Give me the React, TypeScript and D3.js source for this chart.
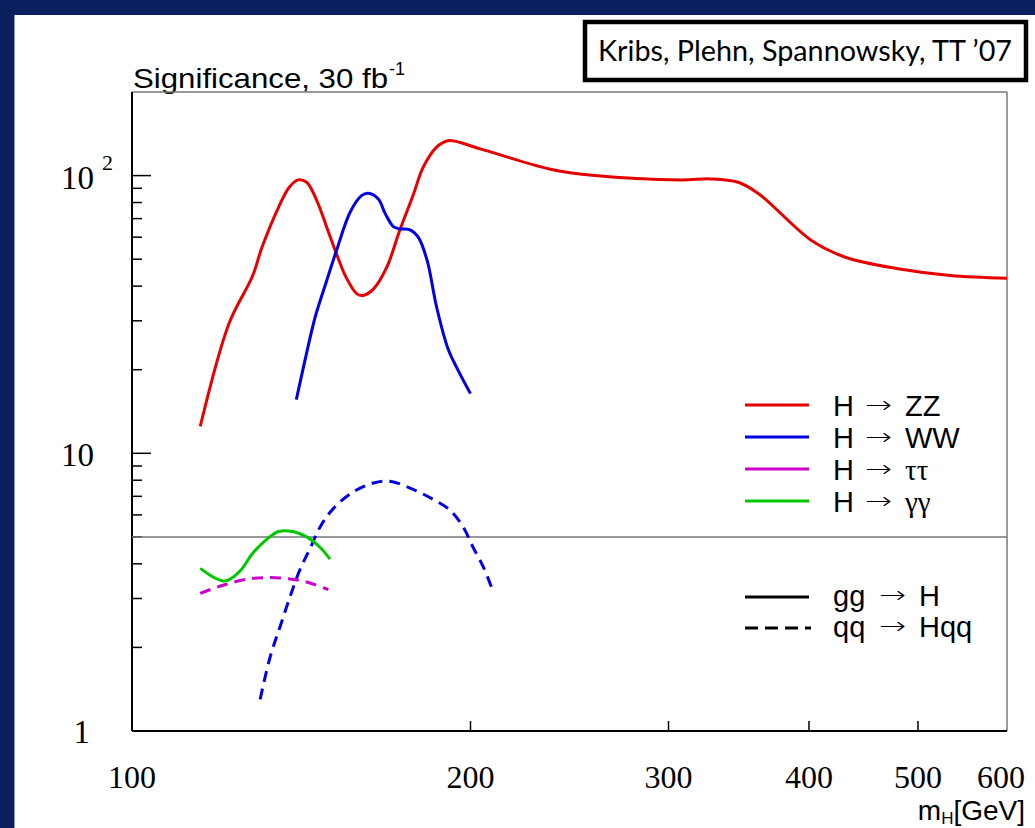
import React from "react";
import * as d3 from "d3";

const WIDTH = 1035;
const HEIGHT = 828;
const PLOT = { left: 132, right: 1007, top: 92, bottom: 731 };

// H -> ZZ, gg -> H
const ZZ_MASS = [115, 122, 128, 130.5, 135, 138, 140.5, 143, 146, 149, 152, 155, 158.5, 160.5, 164, 168.5, 173, 178, 181.5, 186.5, 191, 204, 235, 258, 308, 327, 346, 361, 402, 431, 480, 534, 600];
const ZZ_SIG = [12.5, 29.4, 43.5, 55.2, 76.9, 90.8, 96.5, 94.6, 81.3, 65.2, 52.3, 43.1, 37.5, 37.0, 39.1, 46.8, 63.4, 85.9, 107, 126.4, 133.6, 124.8, 105.7, 100, 96.5, 97.3, 94.6, 85.9, 58.4, 50.8, 46.2, 43.7, 42.7];

// H -> WW, gg -> H
const WW_GG_MASS = [140, 142.5, 145.5, 149, 152, 156.3, 160, 162.2, 165.6, 168, 170.8, 173, 176.7, 179.7, 183, 186.6, 191, 195, 200];
const WW_GG_SIG = [15.6, 21.6, 30.9, 41.9, 53.7, 73.8, 84.7, 86.4, 82.4, 72.8, 65.5, 64.3, 63.8, 60, 49.5, 33.6, 23.8, 19.9, 16.4];

// H -> WW, qq -> Hqq
const WW_QQ_MASS = [130, 132.7, 135.4, 138.2, 141, 144, 147, 151, 157.3, 164, 169.6, 178, 185.3, 191.8, 197, 201, 205.3, 209];
const WW_QQ_SIG = [1.3, 1.85, 2.37, 3.04, 3.8, 4.54, 5.43, 6.32, 7.26, 7.82, 7.93, 7.4, 6.82, 6.24, 5.43, 4.6, 3.9, 3.26];

// H -> gamma gamma, gg -> H
const AA_MASS = [115, 118, 120.5, 122, 125, 128, 132, 135, 139, 143, 147, 150];
const AA_SIG = [3.85, 3.59, 3.47, 3.51, 3.8, 4.36, 4.93, 5.23, 5.23, 5.0, 4.58, 4.16];

// H -> tau tau, qq -> Hqq
const TT_MASS = [115, 120.5, 126.5, 132, 137.3, 143, 149.5];
const TT_SIG = [3.13, 3.35, 3.52, 3.57, 3.54, 3.44, 3.23];

const X_TICKS = [100, 200, 300, 400, 500, 600];
const DISCOVERY = 5;

const RED = "#e60000";
const BLUE = "#0000e6";
const MAGENTA = "#cc00cc";
const GREEN = "#00c800";
const DASH = "11,7";

const SANS = "'Liberation Sans', Arial, sans-serif";
const SERIF = "'Liberation Serif', 'Times New Roman', serif";
const ARROW_FONT = "'DejaVu Sans', sans-serif";

const zip = (xs: number[], ys: number[]) => xs.map((x, i) => [x, ys[i]] as [number, number]);

// legend entry: three separate texts so they do not share one box
const Reaction = ({ y, left, arrowX, right, rightFont }: { y: number; left: string; arrowX: number; right: string; rightFont: string }) => (
  <g>
    <text x={833} y={y} fontFamily={SANS} fontSize={29} fill="#000">{left}</text>
    <text x={arrowX} y={y - 3} fontFamily={ARROW_FONT} fontWeight={200} fontSize={24} fill="#000" textLength={27} lengthAdjust="spacingAndGlyphs">→</text>
    <text x={arrowX + 40} y={y} fontFamily={rightFont} fontSize={29} fill="#000">{right}</text>
  </g>
);

export default function App() {
  const x = d3.scaleLog().domain([100, 600]).range([PLOT.left, PLOT.right]);
  const y = d3.scaleLog().domain([1, 200]).range([PLOT.bottom, PLOT.top]);

  const line = d3
    .line<[number, number]>()
    .x((d) => x(d[0]))
    .y((d) => y(d[1]))
    .curve(d3.curveCatmullRom.alpha(0.5));

  const series = [
    { data: zip(ZZ_MASS, ZZ_SIG), color: RED, dash: undefined },
    { data: zip(WW_GG_MASS, WW_GG_SIG), color: BLUE, dash: undefined },
    { data: zip(WW_QQ_MASS, WW_QQ_SIG), color: BLUE, dash: DASH },
    { data: zip(TT_MASS, TT_SIG), color: MAGENTA, dash: DASH },
    { data: zip(AA_MASS, AA_SIG), color: GREEN, dash: undefined },
  ];

  const minorY: number[] = [];
  for (const dec of [1, 10, 100]) {
    for (let k = 2; k <= 9; k++) {
      if (dec * k < 200) minorY.push(dec * k);
    }
  }

  const legendRows = [
    { color: RED, label: "ZZ", greek: false },
    { color: BLUE, label: "WW", greek: false },
    { color: MAGENTA, label: "ττ", greek: true },
    { color: GREEN, label: "γγ", greek: true },
  ];

  return (
    <svg width={WIDTH} height={HEIGHT} style={{ position: "absolute", left: 0, top: 0 }}>
      <rect x={0} y={0} width={WIDTH} height={HEIGHT} fill="#0b1f5e" />
      <rect x={15} y={15} width={WIDTH - 15} height={HEIGHT - 15} fill="#ffffff" />
      <line x1={14.5} y1={15} x2={14.5} y2={HEIGHT} stroke="#8d9ac0" strokeWidth={1} />

      {/* credit box */}
      <rect x={585} y={22} width={441} height={58} fill="#fff" stroke="#000" strokeWidth={4.5} />
      <text x={598} y={61} fontFamily="Lato, 'Open Sans', sans-serif" fontSize={29} fill="#000" textLength={414} lengthAdjust="spacingAndGlyphs">
        Kribs, Plehn, Spannowsky, TT ’07
      </text>

      {/* y title */}
      <text x={133} y={88} fontFamily={SANS} fontSize={28} fill="#000" textLength={255} lengthAdjust="spacingAndGlyphs">
        Significance, 30 fb
      </text>
      <text x={389} y={75} fontFamily={SANS} fontSize={18} fill="#000">-1</text>

      {/* frame */}
      <line x1={PLOT.left} y1={PLOT.top} x2={PLOT.right} y2={PLOT.top} stroke="#777" strokeWidth={1.5} />
      <line x1={PLOT.right} y1={PLOT.top} x2={PLOT.right} y2={PLOT.bottom} stroke="#777" strokeWidth={1.5} />
      <line x1={PLOT.left} y1={PLOT.top} x2={PLOT.left} y2={PLOT.bottom} stroke="#000" strokeWidth={2} />
      <line x1={PLOT.left} y1={PLOT.bottom} x2={PLOT.right} y2={PLOT.bottom} stroke="#000" strokeWidth={2} />

      {/* y ticks */}
      {[1, 10, 100].map((v) => (
        <line key={`My${v}`} x1={PLOT.left} x2={PLOT.left + 19} y1={y(v)} y2={y(v)} stroke="#000" strokeWidth={1.5} />
      ))}
      {minorY.map((v) => (
        <line key={`my${v}`} x1={PLOT.left} x2={PLOT.left + 10} y1={y(v)} y2={y(v)} stroke="#000" strokeWidth={1.5} />
      ))}
      <text x={94} y={y(100) + 13} textAnchor="end" fontFamily={SERIF} fontSize={33} fill="#000">10</text>
      <text x={102} y={y(100) - 6} fontFamily={SERIF} fontSize={22} fill="#000">2</text>
      <text x={94} y={y(10) + 13} textAnchor="end" fontFamily={SERIF} fontSize={33} fill="#000">10</text>
      <text x={90} y={y(1) + 12} textAnchor="end" fontFamily={SERIF} fontSize={33} fill="#000">1</text>

      {/* x ticks */}
      {X_TICKS.slice(1, -1).map((v) => (
        <line key={`x${v}`} x1={x(v)} x2={x(v)} y1={PLOT.bottom} y2={PLOT.bottom - 10} stroke="#000" strokeWidth={1.5} />
      ))}
      {X_TICKS.map((v) => (
        <text key={`xl${v}`} x={v === 600 ? x(v) - 6 : x(v)} y={788} textAnchor="middle" fontFamily={SERIF} fontSize={32} fill="#000">
          {v}
        </text>
      ))}
      <text x={1025} y={820} textAnchor="end" fontFamily={SANS} fontSize={28} fill="#000">
        m<tspan fontSize={17} dy={4}>H</tspan>
        <tspan dy={-4}>[GeV]</tspan>
      </text>

      {/* 5 sigma */}
      <line x1={PLOT.left} x2={PLOT.right} y1={y(DISCOVERY)} y2={y(DISCOVERY)} stroke="#777" strokeWidth={1.5} />

      {/* curves */}
      {series.map((s, i) => (
        <path key={i} d={line(s.data) || ""} fill="none" stroke={s.color} strokeWidth={3} strokeDasharray={s.dash} />
      ))}

      {/* legend */}
      {legendRows.map((r, i) => {
        const ly = 405 + i * 32;
        return (
          <g key={r.label}>
            <line x1={745} x2={809} y1={ly} y2={ly} stroke={r.color} strokeWidth={3} />
            <Reaction y={ly + 11} left="H" arrowX={865} right={r.label} rightFont={r.greek ? SERIF : SANS} />
          </g>
        );
      })}
      <line x1={745} x2={809} y1={597} y2={597} stroke="#000" strokeWidth={3} />
      <Reaction y={606} left="gg" arrowX={879} right="H" rightFont={SANS} />
      <line x1={745} x2={811} y1={628} y2={628} stroke="#000" strokeWidth={3} strokeDasharray="13,7" />
      <Reaction y={637} left="qq" arrowX={879} right="Hqq" rightFont={SANS} />
    </svg>
  );
}
